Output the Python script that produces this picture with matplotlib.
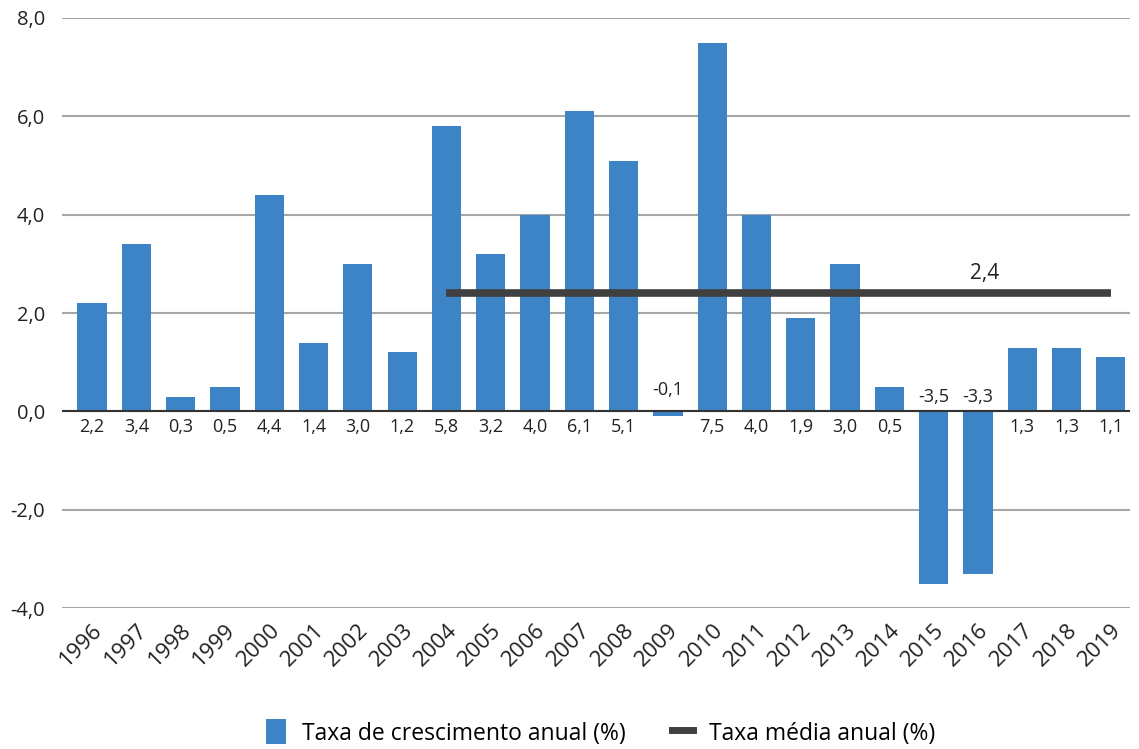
import matplotlib.pyplot as plt
from matplotlib.lines import Line2D
from matplotlib.patches import Patch

plt.rcParams['font.family'] = ['Open Sans', 'DejaVu Sans']

anos = list(range(1996, 2020))
taxa = [2.2, 3.4, 0.3, 0.5, 4.4, 1.4, 3.0, 1.2, 5.8, 3.2, 4.0, 6.1, 5.1,
        -0.1, 7.5, 4.0, 1.9, 3.0, 0.5, -3.5, -3.3, 1.3, 1.3, 1.1]
media = 2.4
media_inicio, media_fim = 2004, 2019

azul = '#3d84c6'
cinza = '#404040'

fig = plt.figure(figsize=(11.39, 7.49), dpi=100)
ax = fig.add_axes([0.0544, 0.188, 0.9376, 0.788])

ax.bar(anos, taxa, width=0.66, color=azul, zorder=2)
ax.plot([media_inicio, media_fim], [media, media], color=cinza, lw=5.5,
        solid_capstyle='butt', zorder=3)

fmt = lambda v: f'{v:.1f}'.replace('.', ',')
ax.text(2016.15, media + 0.2, fmt(media), ha='center',
        va='bottom', fontsize=15, color='#222222')

for a, v in zip(anos, taxa):
    if v >= 0:
        ax.annotate(fmt(v), (a, 0), xytext=(0, -5), textcoords='offset points',
                    ha='center', va='top', fontsize=13, color='#222222')
    else:
        ax.annotate(fmt(v), (a, 0), xytext=(0, 4 if v < -1 else 9),
                    textcoords='offset points', ha='center', va='bottom',
                    fontsize=13, color='#222222')

ax.set_ylim(-4, 8)
ax.set_xlim(1996 - 0.68, 2019 + 0.43)
ax.set_yticks(range(-4, 9, 2))
ax.set_yticklabels([fmt(t) for t in range(-4, 9, 2)])
ax.set_xticks(anos)
ax.set_xticklabels([str(a) for a in anos], rotation=45, ha='right',
                   rotation_mode='anchor')
ax.tick_params(axis='both', length=0, colors='#222222')
ax.tick_params(axis='y', pad=12, labelsize=14.5)
ax.tick_params(axis='x', pad=8, labelsize=16)

ax.grid(axis='y', color='#a6a6a6', lw=1.5, zorder=0)
ax.axhline(0, color='#333333', lw=1.5, zorder=4)
for s in ax.spines.values():
    s.set_visible(False)

handles = [Patch(facecolor=azul, label='Taxa de crescimento anual (%)'),
           Line2D([], [], color=cinza, lw=5, label='Taxa média anual (%)')]
fig.legend(handles=handles, loc='center', bbox_to_anchor=(0.527, 0.022),
           ncol=2, frameon=False, fontsize=16.5, handlelength=0.9,
           handleheight=1.3, columnspacing=2.0, handletextpad=0.7)

fig.savefig('out.png', dpi=100)
